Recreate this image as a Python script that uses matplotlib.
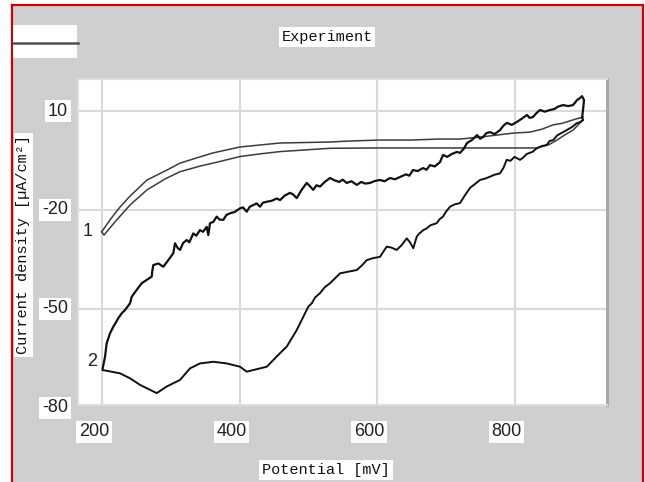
import matplotlib
matplotlib.use("Agg")
import matplotlib.pyplot as plt
from matplotlib.patches import Rectangle
from matplotlib.lines import Line2D
import matplotlib.transforms as mtrans

# ---------------- data ----------------
x_ticks = [200, 400, 600, 800]
y_ticks = [10, -20, -50, -80]
x_label = "Potential [mV]"
y_label = "Current density [µA/cm²]"
title = "Experiment"

# cycle 1 : two traces (anodic / cathodic) forming a thin loop
c1_up_x = [199.6, 211.6, 226.2, 240.7, 265.5, 291.6, 313.5, 342.5, 361.5, 400.7,
           429.8, 458.9, 531.6, 560, 604.4, 650, 690, 720.7, 749.8, 770, 797.8,
           822.5, 840, 856, 870, 885, 899.6]
c1_up_y = [-26.6, -23.0, -19.1, -15.8, -10.9, -8.2, -5.8, -3.9, -2.7, -0.9,
           -0.3, 0.3, 0.6, 0.9, 1.2, 1.2, 1.5, 1.5, 2.1, 2.6, 3.3,
           3.6, 4.5, 5.8, 6.3, 7.3, 8.2]
c1_dn_x = [199.6, 202.9, 218.9, 240.7, 265.5, 291.6, 313.5, 342.5, 361.5, 400.7,
           429.8, 458.9, 531.6, 604.4, 680, 720.7, 780, 832.7, 850, 861.8,
           875, 885, 899.6]
c1_dn_y = [-26.6, -27.6, -23.6, -18.5, -13.9, -10.6, -8.4, -6.7, -5.8, -3.8,
           -3.0, -2.3, -1.3, -1.2, -1.2, -1.2, -1.2, -1.2, -0.2, 1.2,
           3.0, 4.2, 7.3]

# cycle 2 : anodic (upper, noisy) branch
c2_fwd_x = [201.0, 204.4, 206.8, 211.6, 216.4, 223.7, 228.7, 233.5, 240.7, 243.2,
            250.5, 257.7, 265.0, 272.3, 273.0, 274.6, 281.9, 289.2, 296.4, 303.7,
            306.2, 310, 313.5, 318, 323.2, 327, 332.8, 337, 342.5, 347,
            352.3, 354.6, 357.1, 362, 366.8, 371, 376.4, 381, 386.2, 393,
            400.7, 405, 410.5, 415, 420.1, 425, 429.8, 434, 439.6, 447,
            454.1, 458.9, 466, 473.5, 478, 483.2, 490, 497.7, 502, 507.3,
            512, 517.1, 524, 531.6, 538, 545, 550, 555.9, 563, 570.5,
            577, 583, 589.8, 597, 604.4, 611, 618.9, 626, 633.4, 642,
            647, 652.3, 659, 666.9, 672, 677.1, 684, 691.6, 696, 702,
            709, 716.4, 720.7, 726, 730.9, 738, 745.5, 750, 754.2, 759,
            764.4, 771, 778.9, 784, 789.1, 796, 803.6, 810, 818.2, 822,
            826.9, 832, 837.1, 844, 851.6, 858, 863, 870.5, 878, 885.1,
            890.9, 895, 898.2, 901.1, 899.6, 898.2]
c2_fwd_y = [-68.0, -64.5, -60.4, -57.4, -55.4, -52.8, -51.3, -50.3, -48.3, -46.3,
            -44.2, -42.2, -41.2, -40.2, -38.7, -36.7, -36.2, -37.2, -35.2, -33.1,
            -30.1, -31.5, -32.1, -30.0, -29.1, -29.8, -27.1, -27.8, -26.1, -26.6,
            -25.1, -27.6, -24.0, -23.6, -22.0, -22.9, -23.0, -21.5, -21.0, -20.6,
            -19.5, -19.2, -20.5, -19.0, -18.5, -18.0, -19.0, -17.8, -17.5, -17.2,
            -16.5, -17.0, -15.6, -14.8, -15.3, -16.4, -14.0, -11.8, -12.7, -13.9,
            -12.5, -12.9, -11.5, -10.3, -11.0, -11.5, -10.8, -11.8, -11.3, -12.4,
            -11.5, -12.0, -11.8, -11.2, -10.9, -11.3, -10.3, -10.7, -10.0, -9.2,
            -9.6, -7.9, -8.2, -7.3, -7.8, -6.4, -6.8, -5.5, -3.3, -3.9,
            -3.0, -2.4, -2.7, -1.5, 0.3, 1.2, 2.7, 1.6, 2.1, 3.3,
            3.6, 3.0, 4.2, 5.6, 6.4, 5.8, 6.7, 7.6, 8.8, 7.9,
            8.2, 9.4, 10.3, 9.8, 10.3, 10.6, 11.3, 11.8, 11.5, 11.8,
            13.3, 13.9, 14.5, 13.3, 10.3, 7.9]

# cycle 2 : cathodic (lower) branch, from the vertex back to 200 mV
c2_rev_x = [898.2, 900.0, 895, 890.4, 884, 875.9, 868, 862, 856.4, 851,
            846.8, 840, 832.3, 826, 818, 812, 808.0, 800, 794, 788.6,
            784, 778.9, 771, 764.4, 757, 749.8, 742, 735.3, 728, 720.7,
            713, 706.2, 700, 696.0, 691, 686.8, 678, 672, 667.3, 661,
            657.7, 652.8, 648, 643.2, 636, 628.6, 621, 614.1, 608, 604.4,
            594, 585.0, 578, 570.5, 558, 546.2, 538, 531.6, 524, 517.1,
            510, 505.0, 500, 495.3, 483.2, 468.7, 458.9, 439.6, 410.5, 400.7,
            381.4, 361.9, 342.5, 328.0, 313.5, 294.1, 279.6, 269.8, 255.3, 240.7,
            226.2, 201.0]
c2_rev_y = [7.9, 7.3, 6.6, 6.3, 5.2, 4.2, 3.3, 2.6, 1.2, 0.9,
            -0.3, -0.6, -1.3, -2.4, -3.0, -4.2, -4.8, -3.9, -5.1, -4.8,
            -7.2, -8.9, -9.3, -9.9, -10.5, -10.9, -12.2, -13.3, -15.5, -17.9,
            -18.3, -19.0, -20.6, -22.0, -22.8, -24.0, -24.6, -25.6, -26.1, -27.2,
            -28.1, -31.6, -29.8, -28.6, -30.6, -32.1, -31.4, -31.1, -33.0, -34.2,
            -34.6, -35.2, -36.8, -38.2, -38.7, -39.2, -40.9, -42.2, -43.4, -45.2,
            -46.5, -48.3, -49.3, -51.3, -56.4, -61.4, -63.4, -67.5, -69.0, -67.5,
            -66.5, -66.0, -66.5, -68.0, -71.5, -73.5, -75.5, -74.5, -73.0, -71.0,
            -69.5, -68.5]

curve_labels = ["1", "2"]
curve_label_x = [179.6, 185.0]
curve_label_y = [-26.6, -66.0]

# ---------------- figure ----------------
W, H = 645, 482
fig = plt.figure(figsize=(W / 100, H / 100), dpi=100, facecolor="white")


def fx(px):
    return px / W


def fy(py):
    return 1 - py / H


# grey panel with red frame (top/left/right)
fig.add_artist(Rectangle((fx(12), -0.05), fx(643) - fx(12), fy(5) + 0.05,
                         transform=fig.transFigure, facecolor="#cfcfcf",
                         edgecolor="#d00000", lw=1.6, zorder=0))

# small legend box at top-left
fig.add_artist(Rectangle((fx(13), fy(58)), fx(77) - fx(13), fy(25) - fy(58),
                         transform=fig.transFigure, facecolor="white",
                         edgecolor="none", zorder=1))
fig.add_artist(Line2D([fx(13), fx(78)], [fy(42.7), fy(42.7)],
                      transform=fig.transFigure, color="#505050", lw=1.8, zorder=2))

mono = ["Liberation Mono", "DejaVu Sans Mono"]
box = dict(boxstyle="square,pad=0.18", facecolor="white", edgecolor="none")

fig.text(fx(327), fy(37), title, ha="center", va="center", family=mono,
         fontsize=11, color="#111111", bbox=box)
fig.text(fx(326), fy(470), x_label, ha="center", va="center", family=mono,
         fontsize=11, color="#111111", bbox=box)
fig.text(fx(23.5), fy(245), y_label, ha="center", va="center", rotation=90,
         family=mono, fontsize=11, color="#111111", bbox=box)

ax = fig.add_axes([fx(78), fy(405), fx(607) - fx(78), fy(79) - fy(405)])
ax.set_facecolor("white")
ax.set_xlim(165.1, 934.5)
ax.set_ylim(-79.1, 19.7)
ax.set_xticks(x_ticks)
ax.set_yticks([v for v in y_ticks if v > -79])
ax.tick_params(length=0, labelbottom=False, labelleft=False)
ax.grid(True, color="#d9d9d9", lw=1.5)
ax.set_axisbelow(True)
for s in ["left", "top", "bottom"]:
    ax.spines[s].set_color("#dddddd")
    ax.spines[s].set_linewidth(1.5)
ax.spines["right"].set_color("#a9a9a9")
ax.spines["right"].set_linewidth(2.2)

c1_col = "#3c3c3c"
ax.plot(c1_up_x, c1_up_y, color=c1_col, lw=1.1)
ax.plot(c1_dn_x, c1_dn_y, color=c1_col, lw=1.1)
ax.plot(c2_fwd_x, c2_fwd_y, color="#111111", lw=1.6)
ax.plot(c2_rev_x, c2_rev_y, color="#111111", lw=1.4)

for t, xx, yy in zip(curve_labels, curve_label_x, curve_label_y):
    ax.text(xx, yy, t, ha="center", va="center", fontsize=13,
            family="Liberation Sans", color="#222222")

# tick labels (drawn as text so the -80 label below the frame is shown)
bl = mtrans.blended_transform_factory(ax.transData, ax.transAxes)
xt = mtrans.offset_copy(bl, fig=fig, x=-8, y=-27, units="dots")
tbox = dict(boxstyle="square,pad=0.15", facecolor="white", edgecolor="none")
for v in x_ticks:
    ax.text(v, 0, str(v), transform=xt, ha="center", va="center",
            fontsize=13, family="Liberation Sans", color="#222222",
            bbox=tbox, clip_on=False)
bl2 = mtrans.blended_transform_factory(ax.transAxes, ax.transData)
yt = mtrans.offset_copy(bl2, fig=fig, x=-10, y=0, units="dots")
for v in y_ticks:
    ax.text(0, v, str(v), transform=yt, ha="right", va="center",
            fontsize=13, family="Liberation Sans", color="#222222",
            bbox=tbox, clip_on=False)

fig.savefig("out.png", dpi=100, facecolor=fig.get_facecolor())
